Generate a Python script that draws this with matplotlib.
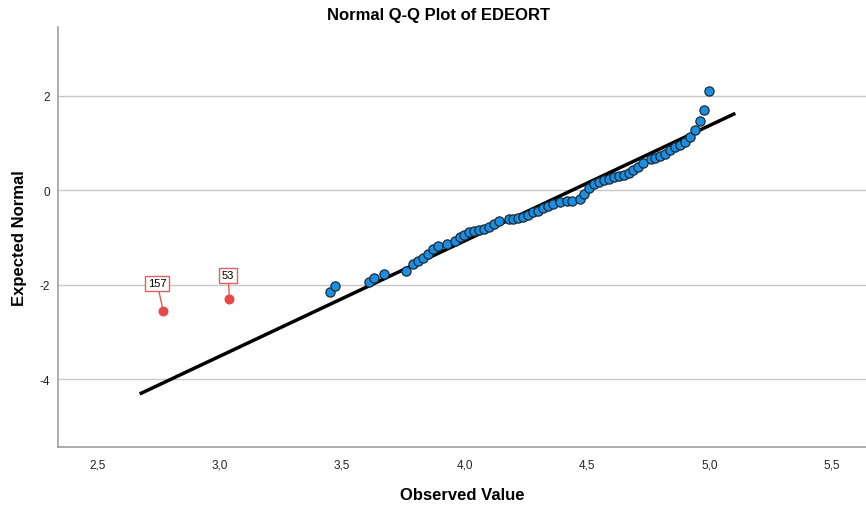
import numpy as np
import matplotlib.pyplot as plt

plt.rcParams['font.family'] = ['Liberation Sans', 'DejaVu Sans']
plt.rcParams['axes.unicode_minus'] = False

# observed values (unique) and their expected normal scores
observed = [3.45, 3.47, 3.61, 3.63, 3.67, 3.76, 3.79, 3.81, 3.83, 3.85,
            3.87, 3.89, 3.93, 3.96, 3.98, 4.00, 4.02, 4.04, 4.06, 4.08,
            4.10, 4.12, 4.14, 4.18, 4.20, 4.22, 4.24, 4.26, 4.28, 4.30,
            4.32, 4.34, 4.36, 4.39, 4.42, 4.44, 4.47, 4.49, 4.51, 4.53,
            4.55, 4.57, 4.59, 4.61, 4.63, 4.65, 4.67, 4.69, 4.71, 4.73,
            4.76, 4.78, 4.80, 4.82, 4.84, 4.86, 4.88, 4.90, 4.92, 4.94,
            4.96, 4.98, 5.00]
expected = [-2.15, -2.03, -1.95, -1.86, -1.78, -1.70, -1.57, -1.50, -1.44, -1.35,
            -1.25, -1.18, -1.14, -1.08, -1.00, -0.94, -0.89, -0.87, -0.84, -0.82,
            -0.77, -0.72, -0.66, -0.61, -0.61, -0.59, -0.56, -0.52, -0.47, -0.44,
            -0.37, -0.33, -0.30, -0.25, -0.23, -0.22, -0.18, -0.08, 0.05, 0.13,
            0.18, 0.21, 0.24, 0.27, 0.30, 0.33, 0.37, 0.42, 0.50, 0.58,
            0.65, 0.69, 0.72, 0.77, 0.85, 0.91, 0.96, 1.02, 1.13, 1.27,
            1.46, 1.69, 2.09]

# flagged outliers
out_ids = ['157', '53']
out_x = [2.77, 3.04]
out_y = [-2.56, -2.30]
label_x = [2.745, 3.035]
label_y = [-1.97, -1.80]

# reference line
mean, sd = 4.44, 0.41
line_x = np.array([2.68, 5.10])
line_y = (line_x - mean) / sd

xticks = [2.5, 3.0, 3.5, 4.0, 4.5, 5.0, 5.5]
yticks = [-4, -2, 0, 2]

fig = plt.figure(figsize=(8.66, 5.06), dpi=100)
ax = fig.add_axes([0.067, 0.1146, 0.933, 0.83])

ax.set_xlim(2.34, 5.64)
ax.set_ylim(-5.43, 3.45)

for y in yticks:
    ax.axhline(y, color='#c8c8c8', lw=1, zorder=0)

ax.plot(line_x, line_y, color='black', lw=2.5, zorder=2)
ax.scatter(observed, expected, s=44, color='#1c8ee0', edgecolor='#1a2a3a',
           linewidth=0.9, zorder=3)

for i in range(len(out_ids)):
    ax.plot([out_x[i], label_x[i]], [out_y[i], label_y[i]], color='#e65a5a', lw=1, zorder=2)
    ax.scatter(out_x[i], out_y[i], s=38, color='#e84848', zorder=3)
    ax.text(label_x[i], label_y[i], out_ids[i], ha='center', va='center', fontsize=8,
            bbox=dict(boxstyle='square,pad=0.25', fc='white', ec='#e06060', lw=1), zorder=4)

ax.set_xticks(xticks)
ax.set_xticklabels([f'{t:.1f}'.replace('.', ',') for t in xticks])
ax.set_yticks(yticks)
ax.tick_params(length=0, labelsize=8.5, colors='#222222', pad=8)
ax.tick_params(axis='y', pad=6)

for s in ['top', 'right']:
    ax.spines[s].set_visible(False)
for s in ['left', 'bottom']:
    ax.spines[s].set_color('#a0a0a0')
    ax.spines[s].set_linewidth(1.2)

fig.text(0.506, 0.970, 'Normal Q-Q Plot of EDEORT', ha='center', va='center',
         fontsize=12, fontweight='bold')
ax.set_xlabel('Observed Value', fontsize=12, fontweight='bold', labelpad=12)
ax.set_ylabel('Expected Normal', fontsize=12, fontweight='bold', labelpad=9)

fig.savefig('out.png', dpi=100)
